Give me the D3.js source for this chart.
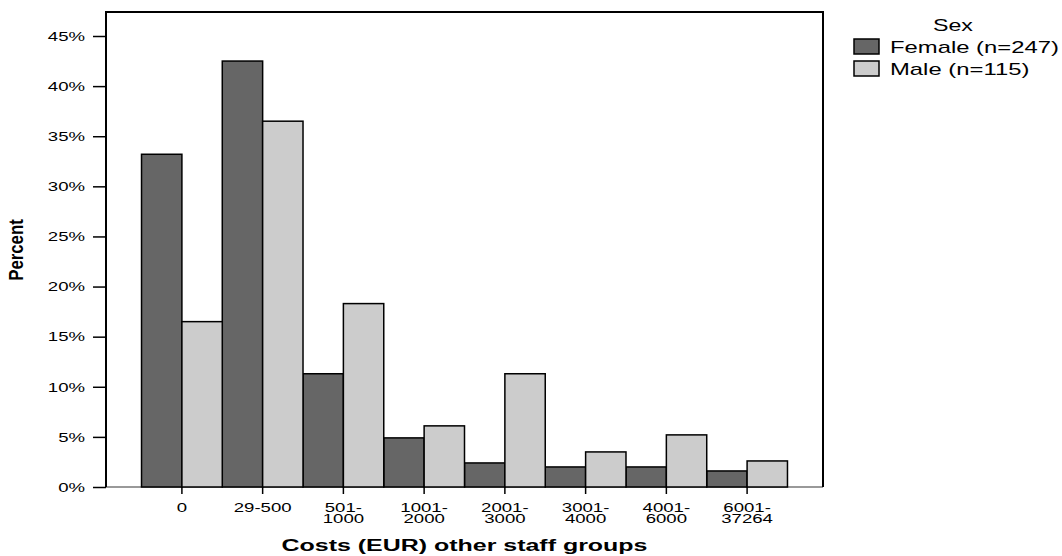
<!DOCTYPE html>
<html>
<head>
<meta charset="utf-8">
<script src="https://cdn.jsdelivr.net/npm/d3@7"></script>
<style>
  html, body { margin: 0; padding: 0; background: #fff; }
  svg { display: block; font-family: "Liberation Sans", Arial, sans-serif; }
</style>
</head>
<body>
<svg id="chart" width="1062" height="556"></svg>
<script>
// ---- Data ----
const categories = ["0", "29-500", "501-1000", "1001-2000", "2001-3000", "3001-4000", "4001-6000", "6001-37264"];
const categoryLabels = [["0"], ["29-500"], ["501-", "1000"], ["1001-", "2000"], ["2001-", "3000"], ["3001-", "4000"], ["4001-", "6000"], ["6001-", "37264"]];
const seriesNames = ["Female (n=247)", "Male (n=115)"];
const femaleValues = [33.2, 42.5, 11.3, 4.9, 2.4, 2.0, 2.0, 1.6];
const maleValues = [16.5, 36.5, 18.3, 6.1, 11.3, 3.5, 5.2, 2.6];
const yTicks = [0, 5, 10, 15, 20, 25, 30, 35, 40, 45];
const yTickLabels = ["0%", "5%", "10%", "15%", "20%", "25%", "30%", "35%", "40%", "45%"];
const legendTitle = "Sex";
const xTitle = "Costs (EUR) other staff groups";
const yTitle = "Percent";

// ---- Layout ----
const frame = { left: 106, right: 823, top: 12, bottom: 487 };
const colors = ["#666666", "#cccccc"];
const SX = 1.55; // horizontal stretch of text in reference

const svg = d3.select("#chart");

const x = d3.scaleBand().domain(categories).range([frame.left, frame.right]).paddingInner(0).paddingOuter(0.44);
const xSub = d3.scaleBand().domain([0, 1]).range([0, x.bandwidth()]).padding(0);
const y = d3.scaleLinear().domain([0, 45]).range([frame.bottom, frame.bottom - 451]);

// bottom gray baseline
svg.append("line")
  .attr("x1", frame.left).attr("x2", frame.right)
  .attr("y1", frame.bottom).attr("y2", frame.bottom)
  .attr("stroke", "#777").attr("stroke-width", 1.5);

// frame (left, top, right)
svg.append("path")
  .attr("d", `M${frame.left},${frame.bottom}V${frame.top}H${frame.right}V${frame.bottom}`)
  .attr("fill", "none").attr("stroke", "#000").attr("stroke-width", 2);

// bars
const series = [femaleValues, maleValues];
series.forEach((vals, si) => {
  svg.append("g").selectAll("rect")
    .data(vals)
    .join("rect")
    .attr("x", (d, i) => x(categories[i]) + xSub(si))
    .attr("y", d => y(d))
    .attr("width", xSub.bandwidth())
    .attr("height", d => y(0) - y(d))
    .attr("fill", colors[si])
    .attr("stroke", "#000")
    .attr("stroke-width", 1.5);
});

// y axis
const yAxis = svg.append("g")
  .attr("transform", `translate(${frame.left},0)`)
  .call(d3.axisLeft(y).tickValues(yTicks).tickSize(13).tickFormat((d, i) => yTickLabels[i]));
yAxis.select(".domain").remove();
yAxis.selectAll(".tick line").attr("stroke", "#000").attr("stroke-width", 1.5);
yAxis.selectAll(".tick text")
  .attr("x", null).attr("dy", null)
  .attr("transform", `translate(-21,4.3) scale(${SX},1)`)
  .attr("text-anchor", "end")
  .attr("font-size", 12)
  .attr("fill", "#000")
  .attr("font-family", "Liberation Sans, Arial, sans-serif");

// x axis
const xAxis = svg.append("g")
  .attr("transform", `translate(0,${frame.bottom})`)
  .call(d3.axisBottom(x).tickSize(7).tickFormat(""));
xAxis.select(".domain").remove();
xAxis.selectAll(".tick line").attr("stroke", "#000").attr("stroke-width", 1.5);
xAxis.selectAll(".tick text").remove();
xAxis.selectAll(".tick").each(function(d, i) {
  const t = d3.select(this).append("text")
    .attr("transform", `translate(0,24.7) scale(${SX},1)`)
    .attr("text-anchor", "middle")
    .attr("font-size", 12)
    .attr("fill", "#000")
    .attr("font-family", "Liberation Sans, Arial, sans-serif");
  categoryLabels[i].forEach((line, li) => {
    t.append("tspan").attr("x", 0).attr("y", li * 11.7).text(line);
  });
});

// axis titles
svg.append("text")
  .attr("transform", `translate(${(frame.left + frame.right) / 2},551) scale(1.56,1)`)
  .attr("text-anchor", "middle")
  .attr("font-size", 16)
  .attr("font-weight", "bold")
  .text(xTitle);

svg.append("text")
  .attr("transform", `translate(22.5,250) scale(1.48,1.2) rotate(-90)`)
  .attr("text-anchor", "middle")
  .attr("font-size", 14)
  .attr("font-weight", "bold")
  .text(yTitle);

// legend
svg.append("text")
  .attr("transform", `translate(953,31) scale(1.45,1)`)
  .attr("text-anchor", "middle")
  .attr("font-size", 16)
  .text(legendTitle);

const legend = svg.append("g");
seriesNames.forEach((name, i) => {
  const gy = 39 + i * 22;
  legend.append("rect")
    .attr("x", 854).attr("y", gy)
    .attr("width", 25).attr("height", 15)
    .attr("fill", colors[i]).attr("stroke", "#000").attr("stroke-width", 1.5);
  legend.append("text")
    .attr("transform", `translate(890,${gy + 14.3}) scale(1.49,1)`)
    .attr("font-size", 16)
    .text(name);
});
</script>
</body>
</html>
